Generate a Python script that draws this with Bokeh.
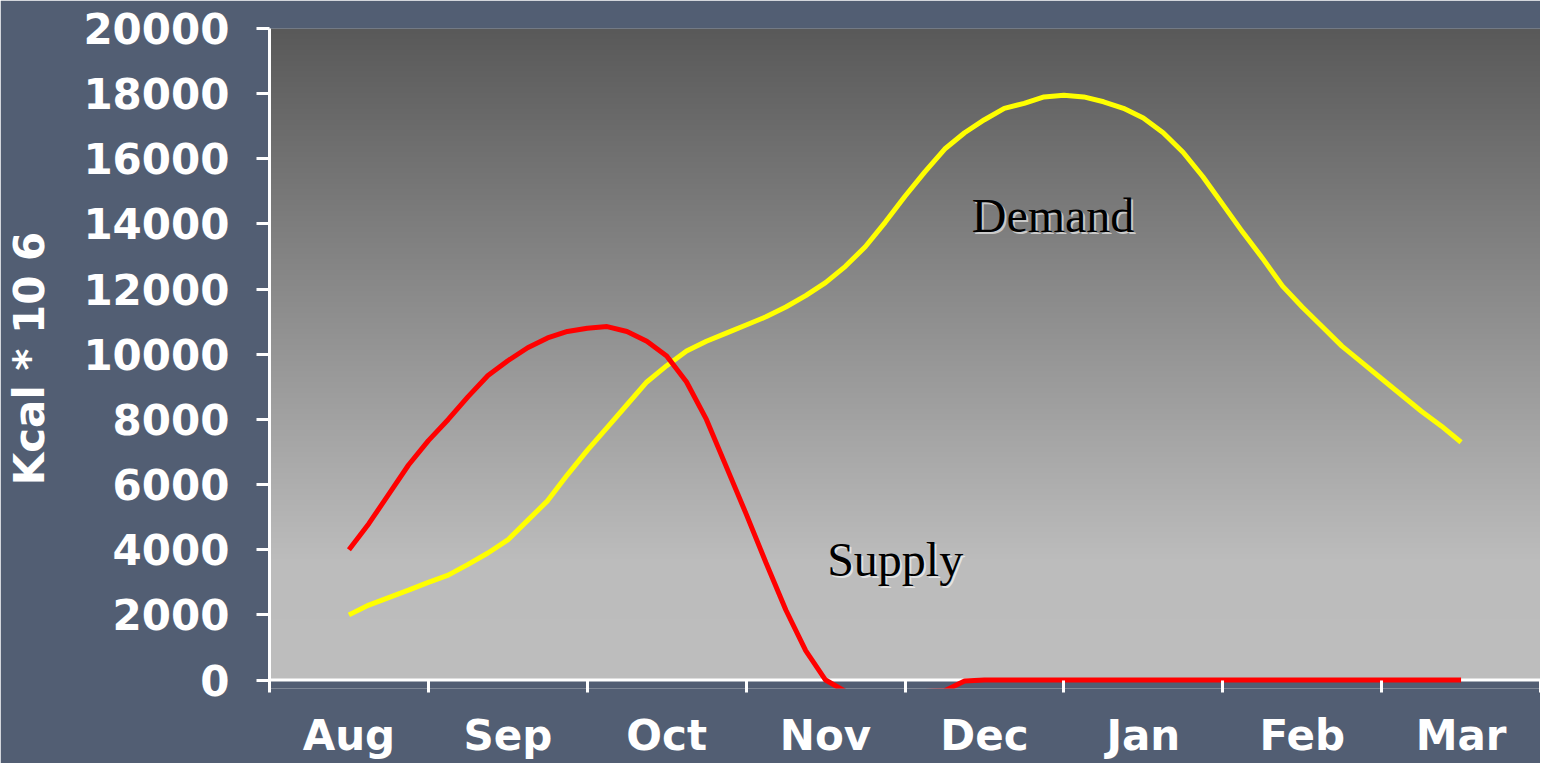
import numpy as np
from bokeh.plotting import figure
from bokeh.models import Range1d, FixedTicker, Span
from bokeh.core.properties import value
from bokeh.embed import file_html
from bokeh.resources import INLINE

# ---------------- data ----------------
months = ["Aug", "Sep", "Oct", "Nov", "Dec", "Jan", "Feb", "Mar"]
y_ticks = [0, 2000, 4000, 6000, 8000, 10000, 12000, 14000, 16000, 18000, 20000]

# positions in months from the start of Aug (month centres at .5)
t = [0.5, 0.625, 0.75, 0.875, 1.0, 1.125, 1.25, 1.375, 1.5, 1.625, 1.75, 1.875,
     2.0, 2.125, 2.25, 2.375, 2.5, 2.625, 2.75, 2.875, 3.0, 3.125, 3.25, 3.375,
     3.5, 3.625, 3.75, 3.875, 4.0, 4.125, 4.25, 4.375, 4.5, 4.625, 4.75, 4.875,
     5.0, 5.125, 5.25, 5.375, 5.5, 5.625, 5.75, 5.875, 6.0, 6.125, 6.25, 6.375,
     6.5, 6.625, 6.75, 6.875, 7.0, 7.125, 7.25, 7.375, 7.5]

supply = [4000, 4800, 5700, 6600, 7350, 8000, 8700, 9350, 9800, 10200, 10500, 10700,
          10800, 10850, 10700, 10400, 9950, 9150, 8000, 6550, 5100, 3600, 2150, 900,
          0, -350, -800, -900, -800, -350, -330, -30, 0, 0, 0, 0,
          0, 0, 0, 0, 0, 0, 0, 0, 0, 0, 0, 0,
          0, 0, 0, 0, 0, 0, 0, 0, 0]

demand = [2000, 2300, 2530, 2760, 3000, 3220, 3550, 3900, 4300, 4900, 5500, 6300,
          7050, 7750, 8450, 9150, 9650, 10100, 10400, 10650, 10900, 11150, 11450, 11800,
          12200, 12700, 13300, 14050, 14850, 15600, 16300, 16800, 17200, 17550, 17700, 17900,
          17950, 17900, 17750, 17550, 17250, 16800, 16200, 15450, 14600, 13750, 12950, 12100,
          11450, 10850, 10250, 9750, 9250, 8750, 8250, 7800, 7300]

labels = ["Demand", "Supply"]
label_x = [4.42, 3.51]
label_y = [14250, 3700]

# ---------------- styling ----------------
SLATE = "#525e73"
TICK_FONT = "DejaVu Sans"

p = figure(width=1540, height=763, output_backend="svg", toolbar_location=None,
           x_range=Range1d(0, 8), y_range=Range1d(-260, 20000),
           min_border_left=269, min_border_right=0, min_border_top=28, min_border_bottom=75)
p.background_fill_color = SLATE
p.border_fill_color = SLATE
p.outline_line_color = None
p.grid.visible = False

# gradient plot area (0..20000)
n = 652
yy = np.linspace(0, 20000, n)
shade = np.interp(yy, [0, 3700, 20000], [190, 188, 89]).astype(np.uint32)
img = np.empty((n, 1), dtype=np.uint32)
img[:, 0] = (255 << 24) | (shade << 16) | (shade << 8) | shade
p.image_rgba(image=[img], x=0, y=0, dw=8, dh=20000, level="image")

# x axis line at zero
p.add_layout(Span(location=0, dimension="width", line_color="white", line_width=3,
                  level="underlay"))

# lines
p.line(t, demand, line_color="#ffff00", line_width=5)
p.line(t, supply, line_color="#ff0000", line_width=5)

# annotations (with soft light shadow)
p.text(x=label_x, y=label_y, text=labels, x_offset=2, y_offset=2,
       text_font=value("Liberation Serif"), text_font_size="48px",
       text_color="white", text_alpha=0.6, text_baseline="middle", text_align="left")
p.text(x=label_x, y=label_y, text=labels,
       text_font=value("Liberation Serif"), text_font_size="48px",
       text_color="black", text_baseline="middle", text_align="left")

# y axis
ya = p.yaxis[0]
ya.ticker = FixedTicker(ticks=y_ticks)
ya.axis_line_color = "white"
ya.axis_line_width = 3
ya.major_tick_line_color = "white"
ya.major_tick_line_width = 3
ya.major_tick_out = 13
ya.major_tick_in = 0
ya.minor_tick_line_color = None
ya.major_label_standoff = 27
ya.major_label_text_font = TICK_FONT
ya.major_label_text_font_style = "bold"
ya.major_label_text_font_size = "42px"
ya.major_label_text_color = "white"
ya.axis_label = "Kcal * 10 6"
ya.axis_label_text_font = TICK_FONT
ya.axis_label_text_font_style = "bold"
ya.axis_label_text_font_size = "42px"
ya.axis_label_text_color = "white"
ya.axis_label_standoff = 26

# x axis: labels at month centres, tick marks between months
xa = p.xaxis[0]
xa.ticker = FixedTicker(ticks=[i + 0.5 for i in range(len(months))],
                        minor_ticks=list(range(len(months) + 1)))
xa.major_label_overrides = {i + 0.5: m for i, m in enumerate(months)}
xa.axis_line_color = None
xa.major_tick_line_color = None
xa.major_tick_in = 0
xa.major_tick_out = 0
xa.minor_tick_line_color = "white"
xa.minor_tick_line_width = 3
xa.minor_tick_in = 8
xa.minor_tick_out = 4
xa.major_label_standoff = 18
xa.major_label_text_font = TICK_FONT
xa.major_label_text_font_style = "bold"
xa.major_label_text_font_size = "42px"
xa.major_label_text_color = "white"

html = file_html(p, INLINE)
html = html.replace("<body>", '<body style="background-color:%s;">' % SLATE, 1)
open("out.html", "w").write(html)
